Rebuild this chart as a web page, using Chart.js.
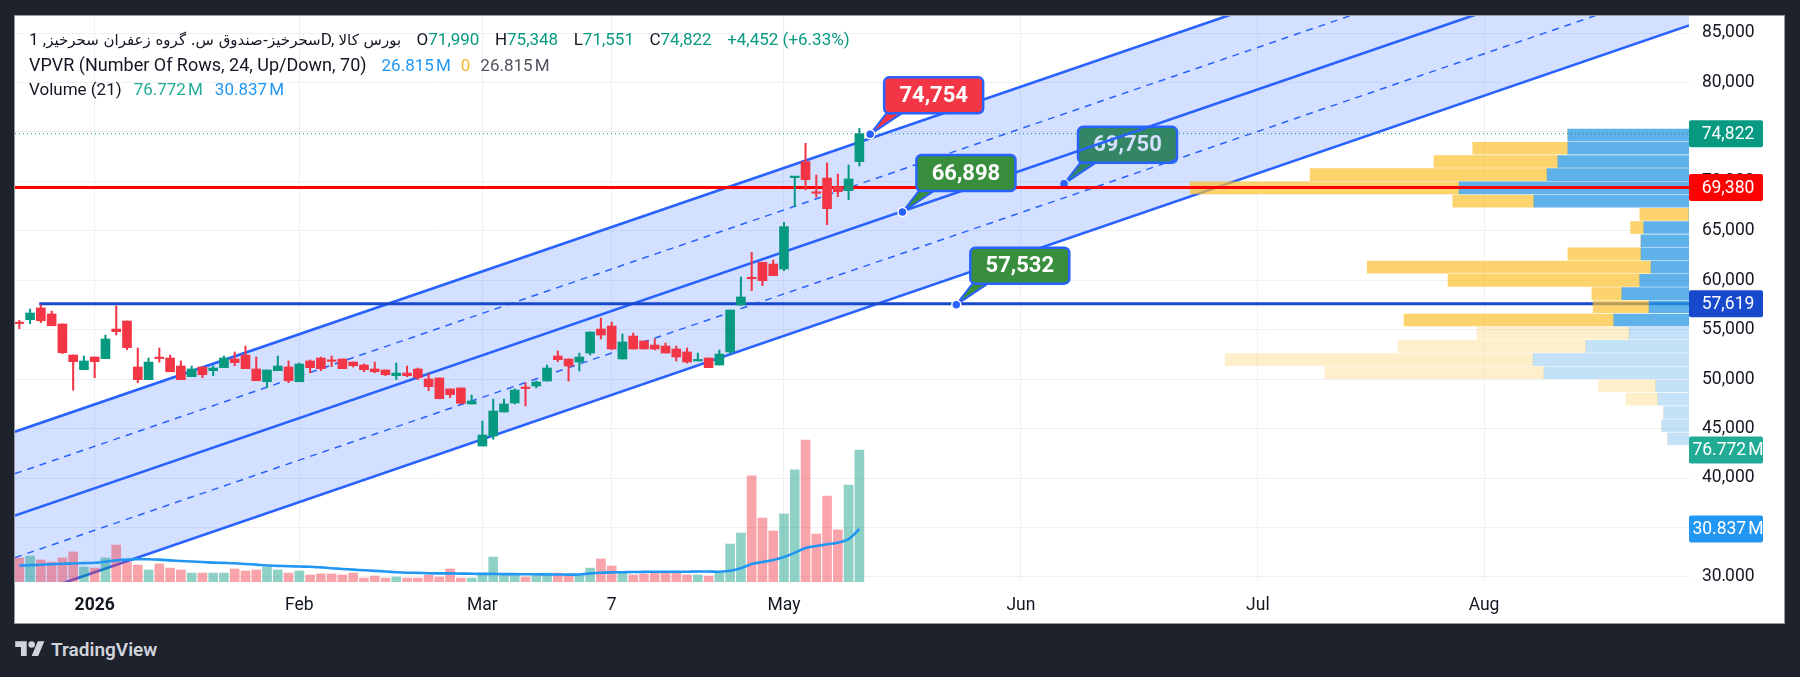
<!DOCTYPE html>
<html>
<head>
<meta charset="utf-8">
<script src="https://cdn.jsdelivr.net/npm/chart.js@4.4.1/dist/chart.umd.min.js"></script>
<style>
  html,body{margin:0;padding:0;background:#1e222d;}
  body{width:1800px;height:677px;position:relative;overflow:hidden;font-family:Roboto,"DejaVu Sans",sans-serif;}
  #panel{position:absolute;left:14px;top:15px;width:1771px;height:609px;box-sizing:border-box;border:1px solid #9598a1;background:#ffffff;}
  #c{position:absolute;left:15px;top:16px;}
  #legend{position:absolute;left:29px;top:27px;font-size:17px;line-height:25px;color:#131722;white-space:nowrap;}
  #legend .row{display:flex;align-items:baseline;height:25px;}
  #legend .r1 > span{margin-right:15.5px;}
  #legend .r3 > span{margin-right:12px;}
  #legend .ar{font-family:"DejaVu Sans",sans-serif;font-size:15px;}
  .g{color:#089981;}
  .b{color:#2196f3;}
  .y{color:#f9b82d;}
  .d{color:#50535e;}
  .t{color:#22ab94;}
  #footer{position:absolute;left:15px;top:638px;display:flex;align-items:center;color:#d1d4dc;font-size:19px;font-weight:600;}
  #footer svg{margin-right:6px;}
</style>
</head>
<body>
<div id="panel"></div>
<canvas id="c" width="1769" height="606"></canvas>
<div id="legend">
  <div class="row r1"><span><span class="ar">سحرخیز-صندوق س. گروه زعفران سحرخیز</span>, 1D, <span class="ar">بورس کالا</span></span><span>O<span class="g">71,990</span></span><span>H<span class="g">75,348</span></span><span>L<span class="g">71,551</span></span><span>C<span class="g">74,822</span></span><span class="g">+4,452 (+6.33%)</span></div>
  <div class="row r2"><span style="font-size:18px;margin-right:15px">VPVR (Number Of Rows, 24, Up/Down, 70)</span><span class="b" style="margin-right:10px">26.815&#8239;M</span><span class="y" style="margin-right:10px">0</span><span class="d">26.815&#8239;M</span></div>
  <div class="row r3"><span>Volume (21)</span><span class="t">76.772&#8239;M</span><span class="b">30.837&#8239;M</span></div>
</div>
<div id="footer"><svg width="30" height="23" viewBox="0 0 36 28"><path d="M14 22H7V11H0V4h14v18zM28 22h-8l7.5-18h8L28 22z" fill="#d1d4dc"/><circle cx="20" cy="8" r="4" fill="#d1d4dc"/></svg><span>TradingView</span></div>
<script>
// ================= DATA =================
const candleOpen  = [55700,56010,57200,56590,55580,52440,50960,52240,52070,55070,55880,51230,49950,52140,52140,51330,50250,51230,50860,51160,52040,52440,51030,49740,50860,51230,49740,51840,52140,51860,52040,51730,51430,51030,50930,50350,50620,51030,50020,50120,49010,49110,47490,43240,44250,46680,47590,49100,49310,49810,52340,52040,51730,52640,55070,55370,52040,54360,53860,53450,53350,53050,52750,51840,52140,51430,52750,57500,60200,61820,61640,61140,70380,71990,68850,70340,69460,69060,71990];
const candleHigh  = [55950,57090,57500,56890,55580,52440,52340,52240,54460,57400,55880,53150,52140,53150,52440,51840,51330,51230,51330,52340,52750,53350,52240,50930,52340,51840,51630,51940,52240,52340,52040,51730,51530,51730,50930,51630,51330,51130,50550,50120,49010,49110,48390,45770,47990,47990,49010,49610,49810,51430,52850,52040,52640,54770,56180,55780,54570,54670,53860,54060,53660,53350,53150,52640,52140,52950,56990,60330,62830,61820,62050,65860,70440,73850,70640,71860,70740,71650,75348];
const candleLow   = [55100,55610,55710,55400,52580,48880,50960,50150,52070,54460,52980,49640,49950,51730,50750,49950,50250,50150,50350,51160,51360,51060,49840,49140,50860,49640,49740,50650,50860,51260,51060,51230,50750,50650,50350,49950,50250,49950,48830,48020,48130,47490,47490,43240,43920,46680,47490,47290,49110,49810,51770,49810,50820,52440,54060,52980,52040,53050,53050,52950,52640,51840,51630,51840,51160,51430,52540,57500,58950,59450,60460,60970,67440,69130,68390,65620,68450,68150,71551];
const candleClose = [55620,56690,55910,55400,52680,51770,51840,51770,54060,54800,53180,49950,51730,52080,50750,49950,51030,50450,51130,52140,51670,51060,49840,50930,51330,49840,51530,51160,51060,51800,51060,51360,50960,50750,50450,50620,50350,50150,49240,48020,48430,47560,47790,44350,46780,47490,48900,49050,49710,51130,51970,51330,52240,54770,54460,53050,53760,53050,53050,53050,52640,52240,51730,51880,51160,52540,56990,58310,60150,59960,60460,65420,70440,70170,68790,67240,68950,70240,74822];
const volumeM     = [14.0,15.1,12.8,11.6,14.0,17.5,8.7,8.1,14.0,21.5,11.6,9.9,7.0,10.5,8.1,7.0,5.2,5.2,5.2,5.2,7.6,6.4,7.0,8.7,7.0,5.2,6.4,4.1,4.7,4.7,4.1,5.2,2.3,3.5,2.3,2.9,2.3,2.3,4.1,2.9,7.6,2.3,2.3,4.3,14.5,4.1,4.1,2.9,4.1,5.2,5.2,4.1,3.5,8.1,13.4,9.3,5.2,4.1,4.7,5.2,5.2,5.2,4.1,4.1,3.5,5.2,22.1,28.5,61.7,37.2,29.7,39.6,65.2,82.6,27.9,50.0,30.3,56.4,76.772];
const volumeMA21  = [9.6,9.8,10.0,10.3,10.6,10.8,11.0,11.2,11.8,12.6,13.1,13.2,13.2,13.0,12.6,12.2,11.9,11.6,11.3,11.1,10.9,10.5,10.1,9.6,9.4,9.2,9.0,8.9,8.5,8.0,7.6,7.2,6.8,6.5,6.1,5.7,5.4,5.3,5.1,5.0,5.0,4.9,4.8,4.7,4.7,4.6,4.6,4.5,4.5,4.4,4.4,4.3,4.4,5.0,5.4,5.6,5.7,5.8,5.9,6.0,6.0,6.0,6.0,6.1,6.1,6.0,6.5,8.0,10.5,11.6,12.8,14.5,17.0,19.8,20.9,22.0,22.9,25.0,30.837];
const xTickIndex  = [7, 26, 43, 55, 71, 93, 115, 136];
const xTickLabels = ['2026', 'Feb', 'Mar', '7', 'May', 'Jun', 'Jul', 'Aug'];
const priceTicks  = [30000,35000,40000,45000,50000,55000,60000,65000,70000,75000,80000,85000];
// Volume profile (24 rows, top to bottom)
const vpRowPrice  = [74680,73345,72010,70674,69339,68003,66668,65333,63997,62662,61326,59991,58656,57320,55985,54649,53314,51979,50643,49308,47972,46637,45302,43966];
const vpUpM       = [30.3,30.3,32.8,35.5,57.5,38.8,0,11.3,12.0,12.0,9.5,12.3,16.8,10.0,18.8,15.0,25.8,39.0,36.3,8.3,7.8,6.3,6.8,5.3];
const vpDownM     = [0,23.8,31.0,59.3,67.3,20.3,12.3,3.3,0,18.3,71.0,48.0,7.5,14.0,52.5,38.0,47.0,77.0,54.8,14.3,8.0,0,0,0];
const vpInValueArea = [1,1,1,1,1,1,1,1,1,1,1,1,1,1,1,0,0,0,0,0,0,0,0,0];
// Parallel channel (bar index -> price)
const channelX        = [-0.4, 155.03];
const channelUpper    = [44690, 102740];
const channelUpperMid = [40445, 98495];
const channelMiddle   = [36200, 94250];
const channelLowerMid = [31955, 90005];
const channelLower    = [27710, 85760];
// Horizontal levels
const redLevel = 69380;
const blueLevel = 57619;
const blueLevelStart = 1.85;
const lastPrice = 74822;
const lastVolume = 76.772;
const lastVolumeMA = 30.837;
// Price callouts
const calloutIdx   = [79, 82, 97, 87];
const calloutPrice = [74754, 66898, 69750, 57532];

// ================= STYLES =================
const GREEN = '#089981', RED = '#f23645';
const X_MIN = -0.4, X_MAX = 155.03, Y_MIN = 29490, Y_MAX = 86719, VOL_MAX = 329.3;
const fmt = v => v.toLocaleString('en-US');

const bodies = candleOpen.map((o, i) => ({x: i, y: [o, candleClose[i]]}));
const wicks  = candleOpen.map((o, i) => ({x: i, y: [candleLow[i], candleHigh[i]]}));
const candleColors = candleOpen.map((o, i) => candleClose[i] >= o ? GREEN : RED);
const volColors = candleOpen.map((o, i) => candleClose[i] >= o ? 'rgba(8,153,129,0.45)' : 'rgba(242,54,69,0.45)');
const vpTotals = vpUpM.map((u, i) => u + vpDownM[i]);
const VP_MAX = Math.max(...vpTotals) / 0.298;

const seg = (ys) => channelX.map((x, i) => ({x, y: ys[i]}));
const chLine = (ys, dashed) => ({
  type: 'line', data: seg(ys), borderColor: '#2962ff', borderWidth: dashed ? 1.5 : 2.6,
  borderDash: dashed ? [7, 6] : [], pointRadius: 0, fill: false, order: 8, xAxisID: 'x', yAxisID: 'y'
});

const datasets = [
  {type: 'bar', data: bodies, backgroundColor: candleColors, barThickness: 9, grouped: false, minBarLength: 1.5, order: 0, xAxisID: 'x', yAxisID: 'y'},
  {type: 'bar', data: wicks, backgroundColor: candleColors, barThickness: 1.4, grouped: false, order: 1, xAxisID: 'x', yAxisID: 'y'},
  {type: 'line', data: [{x: X_MIN, y: redLevel}, {x: X_MAX, y: redLevel}], borderColor: '#ff0000', borderWidth: 3, pointRadius: 0, order: 3, xAxisID: 'x', yAxisID: 'y'},
  {type: 'line', data: [{x: X_MIN, y: lastPrice}, {x: X_MAX, y: lastPrice}], borderColor: GREEN, borderWidth: 1, borderDash: [1, 3], pointRadius: 0, order: 3, xAxisID: 'x', yAxisID: 'y'},
  {type: 'line', data: volumeMA21.map((v, i) => ({x: i, y: v})), borderColor: '#2196f3', borderWidth: 2.6, pointRadius: 0, tension: 0.3, order: 4, xAxisID: 'x', yAxisID: 'yvol'},
  {type: 'bar', data: volumeM.map((v, i) => ({x: i, y: v})), backgroundColor: volColors, barThickness: 9, grouped: false, order: 5, xAxisID: 'x', yAxisID: 'yvol'},
  {type: 'bar', indexAxis: 'y', data: vpRowPrice.map((p, i) => ({y: p, x: [0, vpUpM[i]]})),
    backgroundColor: vpInValueArea.map(v => v ? 'rgba(41,151,226,0.75)' : 'rgba(41,151,226,0.28)'), barThickness: 12, grouped: false, order: 6, xAxisID: 'xvp', yAxisID: 'y'},
  {type: 'bar', indexAxis: 'y', data: vpRowPrice.map((p, i) => ({y: p, x: [vpUpM[i], vpUpM[i] + vpDownM[i]]})),
    backgroundColor: vpInValueArea.map(v => v ? 'rgba(251,192,45,0.7)' : 'rgba(251,192,45,0.25)'), barThickness: 12, grouped: false, order: 6, xAxisID: 'xvp', yAxisID: 'y'},
  {type: 'line', data: [{x: blueLevelStart, y: blueLevel}, {x: X_MAX, y: blueLevel}], borderColor: '#1848cc', borderWidth: 3, pointRadius: 0, order: 7, xAxisID: 'x', yAxisID: 'y'},
  chLine(channelUpper, false),
  chLine(channelUpperMid, true),
  chLine(channelMiddle, false),
  chLine(channelLowerMid, true),
  chLine(channelLower, false),
];
const lowerIdx = datasets.length - 1;
datasets.push({type: 'line', data: seg(channelUpper), borderWidth: 0, borderColor: 'rgba(0,0,0,0)', pointRadius: 0,
  fill: {target: lowerIdx}, backgroundColor: 'rgba(41,98,255,0.2)', order: 9, xAxisID: 'x', yAxisID: 'y'});

const calloutStyle = [
  {fill: '#f23645', under: false},
  {fill: '#388e3c', under: false},
  {fill: '#388e3c', under: true},
  {fill: '#388e3c', under: false},
];

function rr(ctx, x, y, w, h, r) {
  ctx.beginPath();
  ctx.moveTo(x + r, y);
  ctx.arcTo(x + w, y, x + w, y + h, r);
  ctx.arcTo(x + w, y + h, x, y + h, r);
  ctx.arcTo(x, y + h, x, y, r);
  ctx.arcTo(x, y, x + w, y, r);
  ctx.closePath();
}

function drawCallouts(chart, under) {
  const ctx = chart.ctx, xs = chart.scales.x, ys = chart.scales.y;
  calloutIdx.forEach((idx, i) => {
    const st = calloutStyle[i];
    if (st.under !== under) return;
    const px = xs.getPixelForValue(idx), py = ys.getPixelForValue(calloutPrice[i]);
    const left = px + 14, bottom = py - 21, w = 99, h = 36, top = bottom - h;
    ctx.save();
    ctx.beginPath();
    ctx.moveTo(left + 3, bottom - 1);
    ctx.lineTo(px, py);
    ctx.lineTo(left + 19, bottom - 1);
    ctx.closePath();
    ctx.fillStyle = st.fill; ctx.fill();
    ctx.strokeStyle = '#2962ff'; ctx.lineWidth = 2; ctx.lineJoin = 'round'; ctx.stroke();
    rr(ctx, left, top, w, h, 5);
    ctx.fillStyle = st.fill; ctx.fill();
    ctx.lineWidth = 2.5; ctx.strokeStyle = '#2962ff'; ctx.stroke();
    ctx.fillStyle = '#ffffff';
    ctx.font = 'bold 22px Roboto';
    ctx.textAlign = 'center'; ctx.textBaseline = 'middle';
    ctx.fillText(fmt(calloutPrice[i]), left + w / 2, top + h / 2 + 1);
    ctx.beginPath(); ctx.arc(px, py, 4.5, 0, Math.PI * 2);
    ctx.fillStyle = '#2962ff'; ctx.fill();
    ctx.lineWidth = 1.5; ctx.strokeStyle = '#ffffff'; ctx.stroke();
    ctx.restore();
  });
}

function drawBadge(ctx, x0, y, text, color) {
  const w = 74, h = 27;
  ctx.save();
  rr(ctx, x0, y - h / 2, w, h, 2);
  ctx.fillStyle = color; ctx.fill();
  ctx.fillStyle = '#ffffff';
  ctx.font = '17.5px Roboto';
  ctx.textAlign = 'center'; ctx.textBaseline = 'middle';
  ctx.fillText(text, x0 + 39, y + 1);
  ctx.restore();
}

const overlay = {
  id: 'overlay',
  beforeDatasetsDraw(chart) { drawCallouts(chart, true); },
  afterDatasetsDraw(chart) { drawCallouts(chart, false); },
  afterDraw(chart) {
    const ctx = chart.ctx, a = chart.chartArea, ys = chart.scales.y, yv = chart.scales.yvol;
    ctx.save();
    ctx.fillStyle = '#ffffff';
    ctx.fillRect(a.right + 1, a.bottom - 1, chart.width - a.right, chart.height - a.bottom + 1);
    ctx.restore();
    drawBadge(ctx, a.right, ys.getPixelForValue(lastPrice), fmt(lastPrice), '#089981');
    drawBadge(ctx, a.right, ys.getPixelForValue(redLevel), fmt(redLevel), '#ff0000');
    drawBadge(ctx, a.right, ys.getPixelForValue(blueLevel), fmt(blueLevel), '#1848cc');
    drawBadge(ctx, a.right, yv.getPixelForValue(lastVolume), lastVolume.toFixed(3) + '\u202FM', '#22ab94');
    drawBadge(ctx, a.right, yv.getPixelForValue(lastVolumeMA), lastVolumeMA.toFixed(3) + '\u202FM', '#2196f3');
  }
};

Chart.defaults.font.family = 'Roboto';
Chart.defaults.color = '#131722';

new Chart(document.getElementById('c'), {
  type: 'bar',
  data: {datasets},
  plugins: [overlay],
  options: {
    responsive: false,
    devicePixelRatio: 1,
    animation: false,
    events: [],
    layout: {padding: 0},
    plugins: {legend: {display: false}, tooltip: {enabled: false}, filler: {drawTime: 'beforeDatasetDraw'}},
    scales: {
      x: {
        type: 'linear', position: 'bottom', min: X_MIN, max: X_MAX, offset: false,
        grid: {color: '#eef0f4', drawTicks: false, offset: false},
        border: {display: false},
        afterBuildTicks: s => { s.ticks = xTickIndex.map(v => ({value: v})); },
        afterFit: s => { s.height = 40; s.paddingLeft = 0; s.paddingRight = 0; },
        ticks: {
          padding: 13, maxRotation: 0, autoSkip: false, color: '#131722',
          font: c => ({family: 'Roboto', size: 17.5, weight: c.index === 0 ? 'bold' : 'normal'}),
          callback: (v) => xTickLabels[xTickIndex.indexOf(v)] ?? ''
        }
      },
      y: {
        type: 'linear', position: 'right', min: Y_MIN, max: Y_MAX, offset: false, beginAtZero: false,
        grid: {color: '#eef0f4', drawTicks: false, offset: false},
        border: {display: false},
        afterBuildTicks: s => { s.ticks = priceTicks.map(v => ({value: v})); },
        afterFit: s => { s.width = 95; s.paddingTop = 0; s.paddingBottom = 0; },
        ticks: {padding: 13, color: '#131722', font: {family: 'Roboto', size: 17.5}, callback: v => fmt(v)}
      },
      yvol: {type: 'linear', display: false, min: 0, max: VOL_MAX, offset: false, grid: {display: false}},
      xvp: {type: 'linear', axis: 'x', display: false, min: 0, max: VP_MAX, reverse: true, offset: false, grid: {display: false}}
    }
  }
});
</script>
</body>
</html>
